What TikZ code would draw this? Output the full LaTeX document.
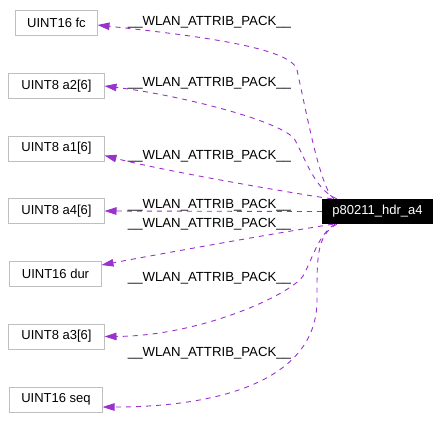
\documentclass[tikz,border=0pt]{standalone}
\usepackage{fontspec}
\setmainfont{Liberation Sans}
\usetikzlibrary{arrows.meta,calc}
\definecolor{edgec}{HTML}{9A32CD}
\definecolor{boxc}{HTML}{BFBFBF}
\begin{document}
\begin{tikzpicture}[x=1bp,y=-1bp,
  leaf/.style={draw=boxc,fill=white,line width=1bp,inner sep=0pt,minimum height=25bp,font=\fontsize{13bp}{15bp}\selectfont},
  mainbox/.style={fill=black,text=white,inner sep=0pt,minimum width=111bp,minimum height=25bp,font=\fontsize{13bp}{15bp}\selectfont},
  lbl/.style={anchor=base,inner sep=0pt,font=\fontsize{13.2bp}{15bp}\selectfont},
  rel/.style={draw=edgec,line width=0.9bp,dash pattern=on 5bp off 5bp,-{Triangle[length=12bp,width=7.5bp]}}]
\useasboundingbox[fill=white] (0,0) rectangle (442,430);
% nodes
\node[mainbox] (main) at (377.5,211.5) {p80211\_hdr\_a4};
\node[leaf,minimum width=81bp] (fc) at (56.5,23) {UINT16 fc};
\node[leaf,minimum width=95bp] (a2) at (56.5,86) {UINT8 a2[6]};
\node[leaf,minimum width=95bp] (a1) at (56.5,148.5) {UINT8 a1[6]};
\node[leaf,minimum width=95bp] (a4) at (56.5,211) {UINT8 a4[6]};
\node[leaf,minimum width=91bp] (dur) at (55.5,273.5) {UINT16 dur};
\node[leaf,minimum width=95bp] (a3) at (56.5,336.5) {UINT8 a3[6]};
\node[leaf,minimum width=92bp] (seq) at (56,399.5) {UINT16 seq};
% edges
\draw[rel] ([xshift=12bp]main.north west) .. controls (320,188) and (306,110) .. (297,70)
   .. controls (292,48) and (200,36) .. ([yshift=-2bp]fc.east);
\draw[rel] ([xshift=15bp]main.north west) .. controls (315,190) and (305,158) .. (295,140)
   .. controls (285,122) and (180,95) .. (a2.east);
\draw[rel] ([xshift=10bp]main.north west) .. controls (290,193) and (160,170) .. ([yshift=-7bp]a1.east);
\draw[rel] (main.west) -- (a4.east);
\draw[rel] ([xshift=11bp]main.south west) .. controls (270,234) and (160,254) .. ([yshift=8.5bp]dur.east);
\draw[rel] ([xshift=13bp]main.south west) .. controls (318,235) and (313,258) .. (303,276)
   .. controls (290,295) and (200,336) .. (a3.east);
\draw[rel] ([xshift=15bp]main.south west) .. controls (316,235) and (317,260) .. (317,300)
   .. controls (317,380) and (220,407) .. ([yshift=-7.5bp]seq.east);
% labels
\node[lbl] (l1) at (209.5,25.7) {\_\_WLAN\_ATTRIB\_PACK\_\_};
\node[lbl] (l2) at (209.5,86.8) {\_\_WLAN\_ATTRIB\_PACK\_\_};
\node[lbl] (l3) at (209.5,159) {\_\_WLAN\_ATTRIB\_PACK\_\_};
\node[lbl] (l4) at (209.5,208.3) {\_\_WLAN\_ATTRIB\_PACK\_\_};
\node[lbl] (l5) at (209.5,227.7) {\_\_WLAN\_ATTRIB\_PACK\_\_};
\node[lbl] (l6) at (209.5,281.5) {\_\_WLAN\_ATTRIB\_PACK\_\_};
\node[lbl] (l7) at (209.5,356.5) {\_\_WLAN\_ATTRIB\_PACK\_\_};
\end{tikzpicture}
\end{document}
